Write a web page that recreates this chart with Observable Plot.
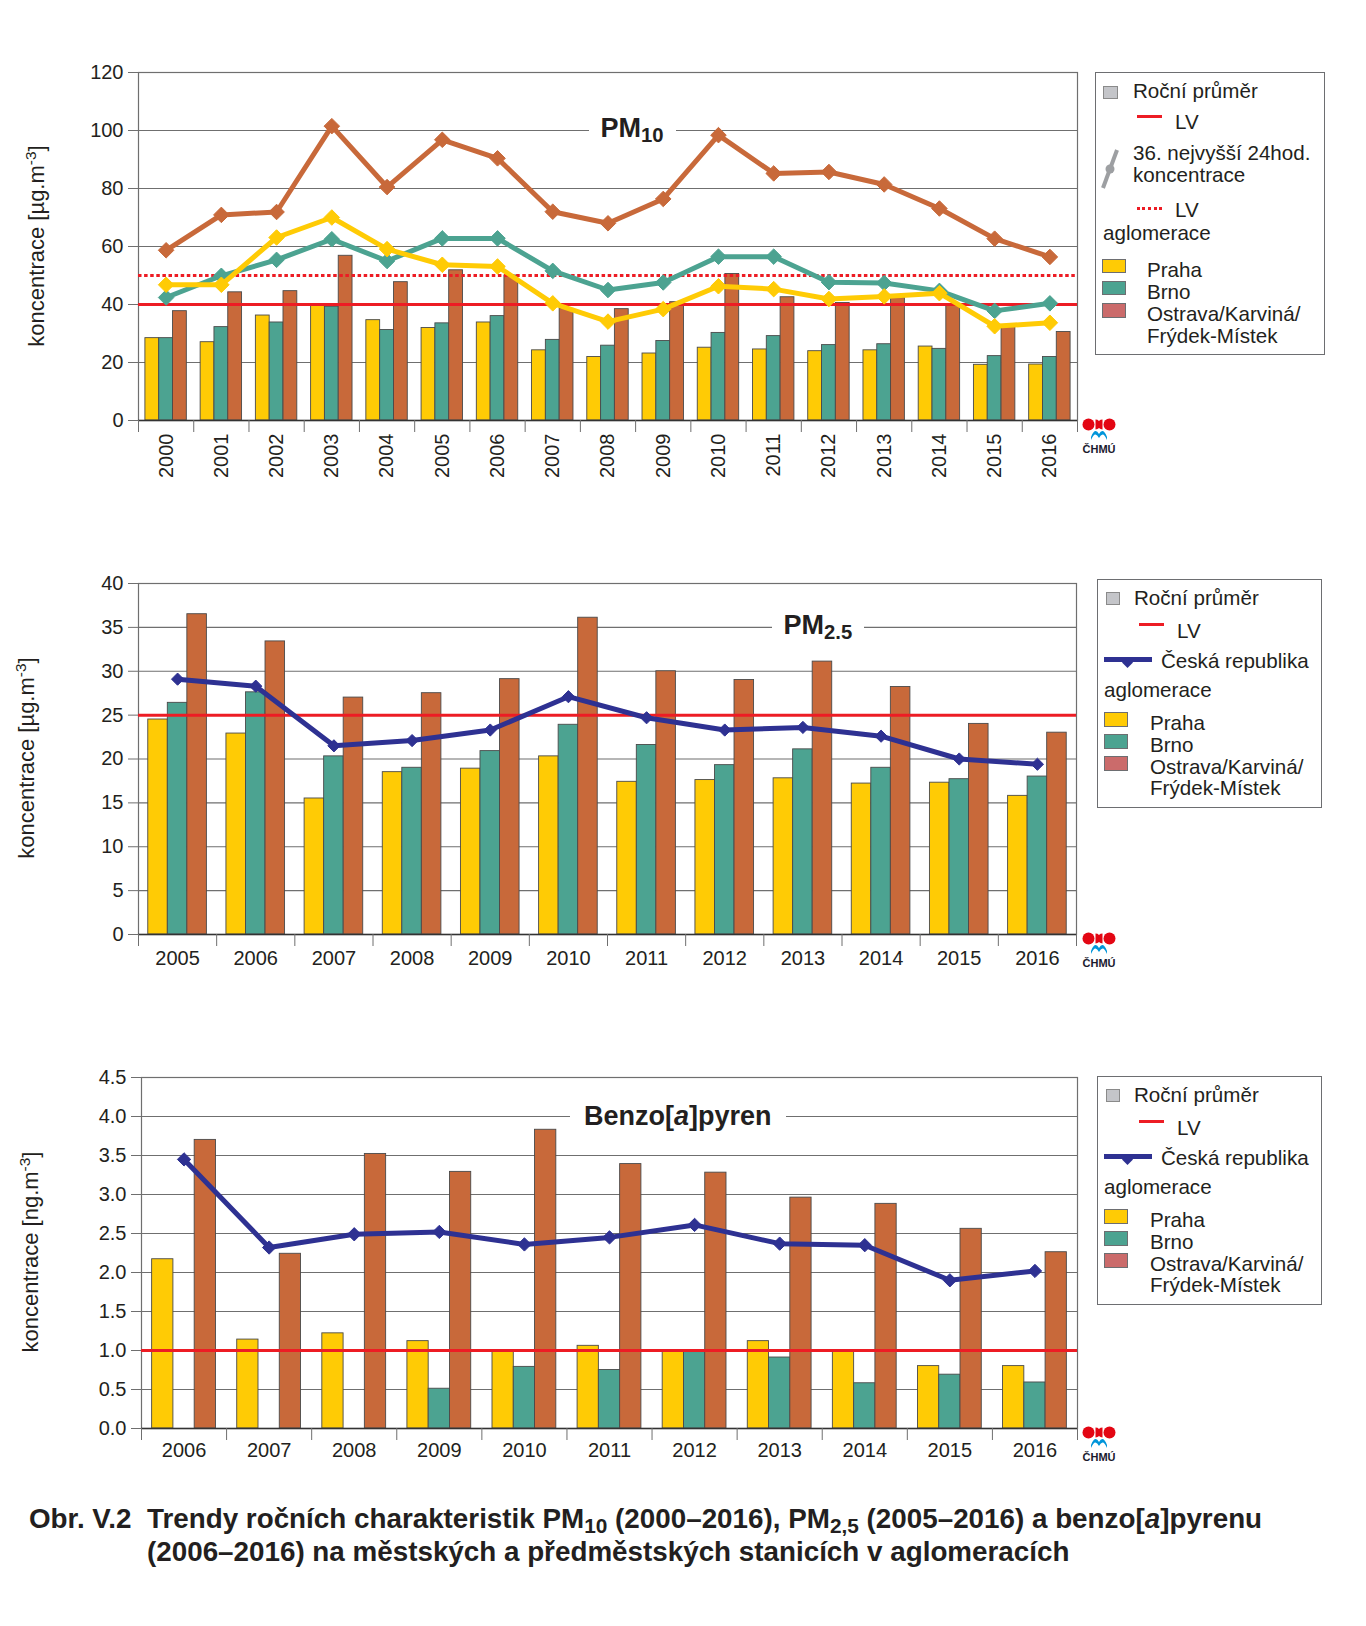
<!DOCTYPE html>
<html>
<head>
<meta charset="utf-8">
<script src="https://cdn.jsdelivr.net/npm/d3@7"></script>
<script src="https://cdn.jsdelivr.net/npm/@observablehq/plot@0.6"></script>
<style>
html, body { margin: 0; padding: 0; background: #fff; }
#page { position: relative; width: 1366px; height: 1626px; overflow: hidden;
  font-family: "Liberation Sans", Arial, Helvetica, sans-serif; color: #231f20; background: #fff; }
.abs { position: absolute; white-space: nowrap; }
.lg { position: absolute; border: 1px solid #6d6e71; background: #fff; box-sizing: border-box; }
.sw { position: absolute; box-sizing: border-box; border: 1px solid #6d6e71; }
sub.s { font-size: 0.75em; vertical-align: baseline; position: relative; top: 0.26em; }
sup.s { font-size: 0.7em; vertical-align: baseline; position: relative; top: -0.5em; }
</style>
</head>
<body>
<div id="page"></div>
<script>
// ---------------- data ----------------
const cityNames = ["Praha", "Brno", "Ostrava/Karviná/Frýdek-Místek"];
const barColors = ["#FFCB05", "#4CA391", "#C8693A"];
const legendOstrava = "#CB6B6B";
const RED = "#ED1C24";
const NAVY = "#2E3192";
const INK = "#231f20";

// PM10 (2000–2016)
const pm10Years = [2000, 2001, 2002, 2003, 2004, 2005, 2006, 2007, 2008, 2009, 2010, 2011, 2012, 2013, 2014, 2015, 2016];
const pm10AvgPraha   = [28.4, 27.0, 36.2, 39.6, 34.6, 31.9, 33.8, 24.2, 21.9, 23.1, 25.1, 24.5, 23.9, 24.2, 25.5, 19.2, 19.3];
const pm10AvgBrno    = [28.4, 32.2, 33.8, 39.2, 31.2, 33.5, 36.0, 27.8, 25.8, 27.4, 30.2, 29.1, 26.0, 26.3, 24.7, 22.2, 21.9];
const pm10AvgOstrava = [37.7, 44.2, 44.6, 56.8, 47.7, 51.8, 50.0, 38.5, 38.4, 40.8, 50.5, 42.5, 40.5, 42.2, 40.0, 32.5, 30.5];
const pm10P36Praha   = [46.8, 46.8, 63.1, 70.0, 59.1, 53.7, 53.1, 40.4, 34.1, 38.4, 46.3, 45.3, 41.9, 42.8, 43.9, 32.5, 33.7];
const pm10P36Brno    = [42.4, 49.9, 55.4, 62.5, 55.0, 62.8, 62.8, 51.6, 45.0, 47.6, 56.5, 56.5, 47.7, 47.4, 44.7, 37.8, 40.4];
const pm10P36Ostrava = [58.7, 70.9, 71.9, 101.5, 80.5, 96.8, 90.4, 72.0, 68.0, 76.4, 98.4, 85.2, 85.7, 81.4, 73.1, 62.7, 56.4];
const pm10Ticks = [0, 20, 40, 60, 80, 100, 120];
const pm10LimitAvg = 40;
const pm10LimitP36 = 50;

// PM2.5 (2005–2016)
const pm25Years = [2005, 2006, 2007, 2008, 2009, 2010, 2011, 2012, 2013, 2014, 2015, 2016];
const pm25Praha   = [24.5, 22.9, 15.5, 18.5, 18.9, 20.3, 17.4, 17.6, 17.8, 17.2, 17.3, 15.8];
const pm25Brno    = [26.4, 27.6, 20.3, 19.0, 20.9, 23.9, 21.6, 19.3, 21.1, 19.0, 17.7, 18.0];
const pm25Ostrava = [36.5, 33.4, 27.0, 27.5, 29.1, 36.1, 30.0, 29.0, 31.1, 28.2, 24.0, 23.0];
const pm25CR      = [29.1, 28.3, 21.5, 22.1, 23.3, 27.1, 24.7, 23.3, 23.6, 22.6, 20.0, 19.4];
const pm25Ticks = [0, 5, 10, 15, 20, 25, 30, 35, 40];
const pm25Limit = 25;

// Benzo[a]pyren (2006–2016)
const bapYears = [2006, 2007, 2008, 2009, 2010, 2011, 2012, 2013, 2014, 2015, 2016];
const bapPraha   = [2.17, 1.14, 1.22, 1.12, 0.99, 1.06, 0.99, 1.12, 0.99, 0.80, 0.80];
const bapBrno    = [null, null, null, 0.51, 0.79, 0.75, 0.98, 0.91, 0.58, 0.69, 0.59];
const bapOstrava = [3.70, 2.24, 3.52, 3.29, 3.83, 3.39, 3.28, 2.96, 2.88, 2.56, 2.26];
const bapCR      = [3.45, 2.32, 2.49, 2.52, 2.36, 2.45, 2.61, 2.37, 2.35, 1.90, 2.02];
const bapTicks = [0, 0.5, 1, 1.5, 2, 2.5, 3, 3.5, 4, 4.5];
const bapLimit = 1;

// ---------------- chart builder ----------------
const FONT = '"Liberation Sans", Arial, Helvetica, sans-serif';

function makeChart(o) {
  const bars = [];
  o.years.forEach((yr, k) => o.bars.forEach((vals, i) => {
    if (vals[k] != null) bars.push({year: yr, slot: i, city: cityNames[i], value: vals[k]});
  }));
  const first = o.years[0], last = o.years[o.years.length - 1];
  const bounds = [first - 0.5].concat(o.years.map(y => y + 0.5));
  const marks = [
    Plot.gridY({ticks: o.ticks, stroke: "#6f6f6f", strokeOpacity: 1, strokeWidth: 1.2}),
    Plot.rect(bars, {
      x1: d => d.year - 0.375 + 0.25 * d.slot,
      x2: d => d.year - 0.125 + 0.25 * d.slot,
      y1: 0, y2: "value",
      fill: d => barColors[d.slot], stroke: "#4a4a4a", strokeWidth: 0.9
    }),
    Plot.frame({stroke: "#6f6f6f", strokeWidth: 1.2}),
    Plot.ruleY([0], {stroke: "#333", strokeWidth: 1.4})
  ];
  o.limits.forEach(l => marks.push(Plot.ruleY([l.value], {stroke: RED, strokeWidth: 3, strokeDasharray: l.dash})));
  o.lines.forEach(l => {
    const data = o.years.map((yr, k) => ({year: yr, value: l.values[k]}));
    marks.push(Plot.line(data, {x: "year", y: "value", stroke: l.color, strokeWidth: 5, strokeLinejoin: "round"}));
    marks.push(Plot.dot(data, {x: "year", y: "value", symbol: "diamond2", r: l.r, fill: l.color, stroke: l.color, strokeWidth: 1}));
  });
  marks.push(
    Plot.axisY({ticks: o.ticks, tickSize: 10, tickPadding: 5, stroke: "#6f6f6f", fill: INK, tickFormat: o.tickFormat, label: null}),
    Plot.axisX({ticks: bounds, tickSize: 12, stroke: "#6f6f6f", tickFormat: () => "", label: null}),
    Plot.axisX({ticks: o.years, tickSize: 0, tickPadding: o.labelPad, tickRotate: o.rotate, tickFormat: d => String(d), fill: INK, label: null})
  );
  const svg = Plot.plot({
    width: 1090, height: o.height,
    marginTop: o.marginTop, marginBottom: o.marginBottom, marginLeft: o.marginLeft, marginRight: o.marginRight,
    style: {fontFamily: FONT, fontSize: "20px", color: INK, background: "transparent", overflow: "visible"},
    x: {type: "linear", domain: [first - 0.5, last + 0.5], label: null},
    y: {domain: [0, o.yMax], label: null},
    marks
  });
  svg.style.position = "absolute";
  svg.style.left = "0px";
  svg.style.top = o.top + "px";
  return svg;
}

const page = document.getElementById("page");

page.appendChild(makeChart({
  years: pm10Years, bars: [pm10AvgPraha, pm10AvgBrno, pm10AvgOstrava],
  lines: [
    {values: pm10P36Ostrava, color: barColors[2], r: 7},
    {values: pm10P36Brno, color: barColors[1], r: 7},
    {values: pm10P36Praha, color: barColors[0], r: 7}
  ],
  limits: [{value: pm10LimitAvg}, {value: pm10LimitP36, dash: "3.5,2.6"}],
  ticks: pm10Ticks, yMax: 120, tickFormat: d => String(d),
  top: 0, height: 490, marginTop: 72, marginBottom: 70, marginLeft: 138, marginRight: 13,
  rotate: -90, labelPad: 13
}));

page.appendChild(makeChart({
  years: pm25Years, bars: [pm25Praha, pm25Brno, pm25Ostrava],
  lines: [{values: pm25CR, color: NAVY, r: 5.5}],
  limits: [{value: pm25Limit}],
  ticks: pm25Ticks, yMax: 40, tickFormat: d => String(d),
  top: 520, height: 464, marginTop: 63, marginBottom: 50, marginLeft: 138, marginRight: 14,
  rotate: 0, labelPad: 16
}));

page.appendChild(makeChart({
  years: bapYears, bars: [bapPraha, bapBrno, bapOstrava],
  lines: [{values: bapCR, color: NAVY, r: 6}],
  limits: [{value: bapLimit}],
  ticks: bapTicks, yMax: 4.5, tickFormat: d => d.toFixed(1),
  top: 1010, height: 468, marginTop: 67, marginBottom: 50, marginLeft: 141, marginRight: 13,
  rotate: 0, labelPad: 14
}));

// ---------------- html helpers ----------------
const LG = 20.6; // legend font size
function el(cls, css, html) {
  const d = document.createElement("div");
  d.className = cls;
  Object.assign(d.style, css);
  if (html != null) d.innerHTML = html;
  page.appendChild(d);
  return d;
}
function text(x, baseline, html, size = LG, extra = {}) {
  return el("abs", Object.assign({left: x + "px", top: (baseline - 0.845 * size) + "px",
    fontSize: size + "px", lineHeight: size + "px"}, extra), html);
}
function swatch(x, y, w, h, fill, border = "#6d6e71") {
  return el("sw", {left: x + "px", top: y + "px", width: w + "px", height: h + "px", background: fill, borderColor: border});
}
function hline(x, y, w, h, color) {
  return el("abs", {left: x + "px", top: y + "px", width: w + "px", height: h + "px", background: color});
}
function box(x, y, w, h) {
  return el("lg", {left: x + "px", top: y + "px", width: w + "px", height: h + "px"});
}
function yLabel(cx, cy, html) {
  const d = text(0, 0, html, 22);
  const w = d.offsetWidth, h = d.offsetHeight;
  d.style.left = (cx - w / 2) + "px";
  d.style.top = (cy - h / 2) + "px";
  d.style.transform = "rotate(-90deg)";
}
function title(cx, baseline, html, padX) {
  const size = 27;
  const d = text(0, baseline, html, size, {fontWeight: "bold", background: "#fff", padding: "0 " + padX + "px", lineHeight: "30px", top: (baseline - 24) + "px"});
  const w = d.offsetWidth;
  d.style.left = (cx - w / 2) + "px";
}
function logo(x, y) {
  el("abs", {left: x + "px", top: y + "px", width: "36px", height: "40px"},
    `<svg width="36" height="40" viewBox="0 0 36 40">
      <circle cx="6.5" cy="6.5" r="6" fill="#E30613"/>
      <circle cx="27.5" cy="6.5" r="6" fill="#E30613"/>
      <path d="M13.5,1.5 a5,5 0 0 1 0,10 z" fill="#E30613"/>
      <path d="M20.5,1.5 a5,5 0 0 0 0,10 z" fill="#E30613"/>
      <path d="M9,22 Q13,12 17,20 Q21,12 25,22 L25,19 Q21,9 17,16 Q13,9 9,19 Z" fill="#0095DA"/>
      <text x="17" y="35" text-anchor="middle" font-family="Liberation Sans, Arial, sans-serif" font-size="11" font-weight="bold" fill="#1a1a2e">ČHMÚ</text>
    </svg>`);
}

// ---------------- titles inside plots ----------------
title(632, 137, 'PM<sub class="s">10</sub>', 12);
title(818, 634, 'PM<sub class="s">2.5</sub>', 12);
title(678, 1125, 'Benzo[<i>a</i>]pyren', 14);

// ---------------- y-axis labels ----------------
const yLab = 'koncentrace [µg.m<sup class="s">-3</sup>]';
yLabel(37, 246, yLab);
yLabel(27, 758, yLab);
yLabel(32, 1252, 'koncentrace [ng.m<sup class="s">-3</sup>]');

// ---------------- logos ----------------
logo(1082, 418);
logo(1082, 932);
logo(1082, 1426);

// ---------------- legend PM10 ----------------
box(1095, 72, 230, 283);
swatch(1103, 86, 15, 13, "#C4C5C9", "#8a8a8a");
text(1133, 98, "Roční průměr");
hline(1137, 115, 25, 3, RED);
text(1175, 129, "LV");
el("abs", {left: "1099px", top: "147px", width: "22px", height: "44px"},
  `<svg width="22" height="44"><line x1="4" y1="41" x2="18" y2="3" stroke="#9d9fa2" stroke-width="4"/><circle cx="11" cy="22" r="4.5" fill="#9d9fa2"/></svg>`);
text(1133, 160, "36. nejvyšší 24hod.");
text(1133, 182, "koncentrace");
el("abs", {left: "1137px", top: "207px", width: "25px", height: "0px", borderTop: "3px dotted " + RED});
text(1175, 217, "LV");
text(1103, 240, "aglomerace");
swatch(1102, 259, 24, 14, barColors[0]);
text(1147, 277, "Praha");
swatch(1102, 281, 24, 14, barColors[1]);
text(1147, 299, "Brno");
swatch(1102, 303, 24, 15, legendOstrava);
text(1147, 321, "Ostrava/Karviná/");
text(1147, 343, "Frýdek-Místek");

// ---------------- legends PM2.5 and BaP ----------------
function legendCR(T) {
  box(1097, T, 225, 229);
  swatch(1106, T + 13, 14, 13, "#C4C5C9", "#8a8a8a");
  text(1134, T + 26, "Roční průměr");
  hline(1139, T + 44, 25, 3, RED);
  text(1177, T + 59, "LV");
  hline(1104, T + 78, 48, 5, NAVY);
  el("abs", {left: "1122px", top: (T + 75) + "px", width: "11px", height: "11px"},
    `<svg width="11" height="11"><path d="M5.5,0 L11,5.5 L5.5,11 L0,5.5 Z" fill="${NAVY}"/></svg>`);
  text(1161, T + 89, "Česká republika");
  text(1104, T + 118, "aglomerace");
  swatch(1104, T + 133, 24, 15, barColors[0]);
  text(1150, T + 151, "Praha");
  swatch(1104, T + 155, 24, 15, barColors[1]);
  text(1150, T + 173, "Brno");
  swatch(1104, T + 177, 24, 15, legendOstrava);
  text(1150, T + 195, "Ostrava/Karviná/");
  text(1150, T + 216, "Frýdek-Místek");
}
legendCR(579);
legendCR(1076);

// ---------------- caption ----------------
const capCss = {fontWeight: "bold"};
text(29, 1528, "Obr. V.2", 27.8, capCss);
text(147, 1528, 'Trendy ročních charakteristik PM<sub class="s">10</sub> (2000–2016), PM<sub class="s">2,5</sub> (2005–2016) a benzo[<i>a</i>]pyrenu', 27.8, capCss);
text(147, 1561, "(2006–2016) na městských a předměstských stanicích v aglomeracích", 27.8, capCss);
</script>
</body>
</html>
